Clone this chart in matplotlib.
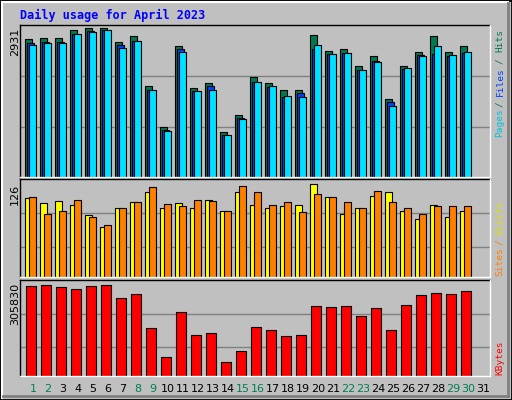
import matplotlib
matplotlib.use("Agg")
import matplotlib.pyplot as plt
from matplotlib.patches import Rectangle
from matplotlib.lines import Line2D

days = list(range(1, 31))
hits = [2712,2732,2732,2891,2931,2931,2652,2772,1777,981,2573,1737,1837,882,1220,1956,1837,1698,1717,2792,2473,2513,2175,2374,1538,2175,2453,2772,2453,2573]
files = [2633,2652,2652,2812,2871,2891,2593,2672,1717,922,2513,1678,1777,822,1160,1857,1757,1578,1658,2513,2414,2434,2095,2274,1479,2115,2394,2414,2374,2434]
pages = [2593,2633,2633,2812,2851,2891,2533,2672,1698,902,2453,1678,1717,822,1141,1857,1777,1598,1578,2593,2414,2434,2095,2255,1399,2135,2374,2573,2394,2453]
sites = [107,100,103,97,84,68,94,101,115,94,100,94,105,89,115,97,93,96,97,126,108,86,93,110,115,89,78,97,82,90]
visits = [108,86,90,105,82,71,93,101,122,99,96,105,103,89,123,115,97,101,88,112,108,101,93,116,101,93,85,96,96,96]
kbytes = [302500,305830,299100,292400,302500,305830,262100,275600,161300,63900,215100,137800,144500,47000,84000,164700,154600,134400,137800,235300,231900,235300,201600,228500,154600,238600,272200,279000,275600,285700]
day_labels = [str(d) for d in range(1, 32)]
weekend = {1,2,8,9,15,16,22,23,29,30}

W, H = 512, 400
BG = "#C0C0C0"
fig = plt.figure(figsize=(W/100, H/100), dpi=100, facecolor=BG)

def ax_px(x0, y0, x1, y1):
    a = fig.add_axes([x0/W, 1-y1/H, (x1-x0)/W, (y1-y0)/H])
    a.set_facecolor(BG)
    a.set_xlim(x0, x1)
    for s in a.spines.values():
        s.set_visible(False)
    a.set_xticks([]); a.set_yticks([])
    return a

# figure border
fig.patches.append(Rectangle((0,0),1,1,transform=fig.transFigure,fill=False,ec="black",lw=2))
fig.add_artist(Line2D([2/W,2/W],[2/H,1-2/H],color="white",lw=1.5))
fig.add_artist(Line2D([2/W,1-4/W],[1-2/H,1-2/H],color="white",lw=1.5))
fig.add_artist(Line2D([1-4/W,1-4/W],[4/H,1-3/H],color="#808080",lw=2))
fig.add_artist(Line2D([3/W,1-4/W],[4/H,4/H],color="#808080",lw=2))

mono = "DejaVu Sans Mono"
fig.text(20/W, 1-15/H, "Daily usage for April 2023", color="#0000FF", fontsize=8.5,
         fontweight="bold", family=mono, va="center", ha="left")

def xpos(i, off):
    return 25 + 15*(i) + off

# top panel
a1 = ax_px(20, 25, 490, 177)
a1.set_ylim(0, 2931*150/147.4)
for g in [2931*49.5/147.4, 2931*100/147.4]:
    a1.axhline(g, color="#808080", lw=1, zorder=0)
for i in range(30):
    a1.bar(xpos(i,0), hits[i], width=7.3, align="edge", color="#007850", ec="black", lw=0.8)
    a1.bar(xpos(i,2), files[i], width=7.3, align="edge", color="#0040FF", ec="black", lw=0.8)
    a1.bar(xpos(i,4), pages[i], width=7.3, align="edge", color="#00E0FF", ec="black", lw=0.8)

# middle panel
a2 = ax_px(20, 179, 490, 277)
a2.set_ylim(0, 126*97/92)
for g in [126*30/92, 126*63/92]:
    a2.axhline(g, color="#808080", lw=1, zorder=0)
for i in range(30):
    a2.bar(xpos(i,0), sites[i], width=7.3, align="edge", color="#FFFF00", ec="black", lw=0.8)
    a2.bar(xpos(i,4), visits[i], width=7.3, align="edge", color="#FF8000", ec="black", lw=0.8)

# bottom panel
a3 = ax_px(20, 280, 490, 376)
a3.set_ylim(0, 305830*96/91)
for g in [305830*29/91, 305830*62/91]:
    a3.axhline(g, color="#808080", lw=1, zorder=0)
for i in range(30):
    a3.bar(xpos(i,1), kbytes[i], width=10.3, align="edge", color="#FF0000", ec="black", lw=0.8)

# panel frames
for (y0, y1) in [(25,177),(179,277),(280,376)]:
    fig.add_artist(Line2D([20/W,490/W],[1-y0/H,1-y0/H],color="black",lw=1))
    fig.add_artist(Line2D([20/W,20/W],[1-y0/H,1-y1/H],color="black",lw=1))
    fig.add_artist(Line2D([20/W,490/W],[1-y1/H,1-y1/H],color="white",lw=1))
    fig.add_artist(Line2D([490/W,490/W],[1-y0/H,1-y1/H],color="white",lw=1))

# y max labels
fig.text(15/W, 1-28/H, "2931", rotation=90, fontsize=8, va="top", ha="center")
fig.text(15/W, 1-184/H, "126", rotation=90, fontsize=8, va="top", ha="center")
fig.text(15/W, 1-283/H, "305830", rotation=90, fontsize=8, va="top", ha="center")

# right labels
def rlab(txt, ymid, color):
    fig.text(500/W, 1-ymid/H, txt, rotation=90, fontsize=6.8, family=mono,
             color=color, va="center", ha="center")
rlab("Pages", 123, "#00C0E0")
rlab("/", 104, "#007850")
rlab("Files", 82, "#0040FF")
rlab("/", 61, "#007850")
rlab("Hits", 40, "#007850")
rlab("Sites", 262, "#FF8000")
rlab("/", 242, "#FF8000")
rlab("Visits", 218, "#E0E000")
rlab("KBytes", 358, "#FF0000")

# day labels
for d in range(1, 32):
    fig.text((33 + 15*(d-1))/W, 1-389/H, day_labels[d-1], fontsize=8, ha="center", va="center",
             color="#008050" if d in weekend else "black")

fig.savefig("out.png", dpi=100, facecolor=BG)
